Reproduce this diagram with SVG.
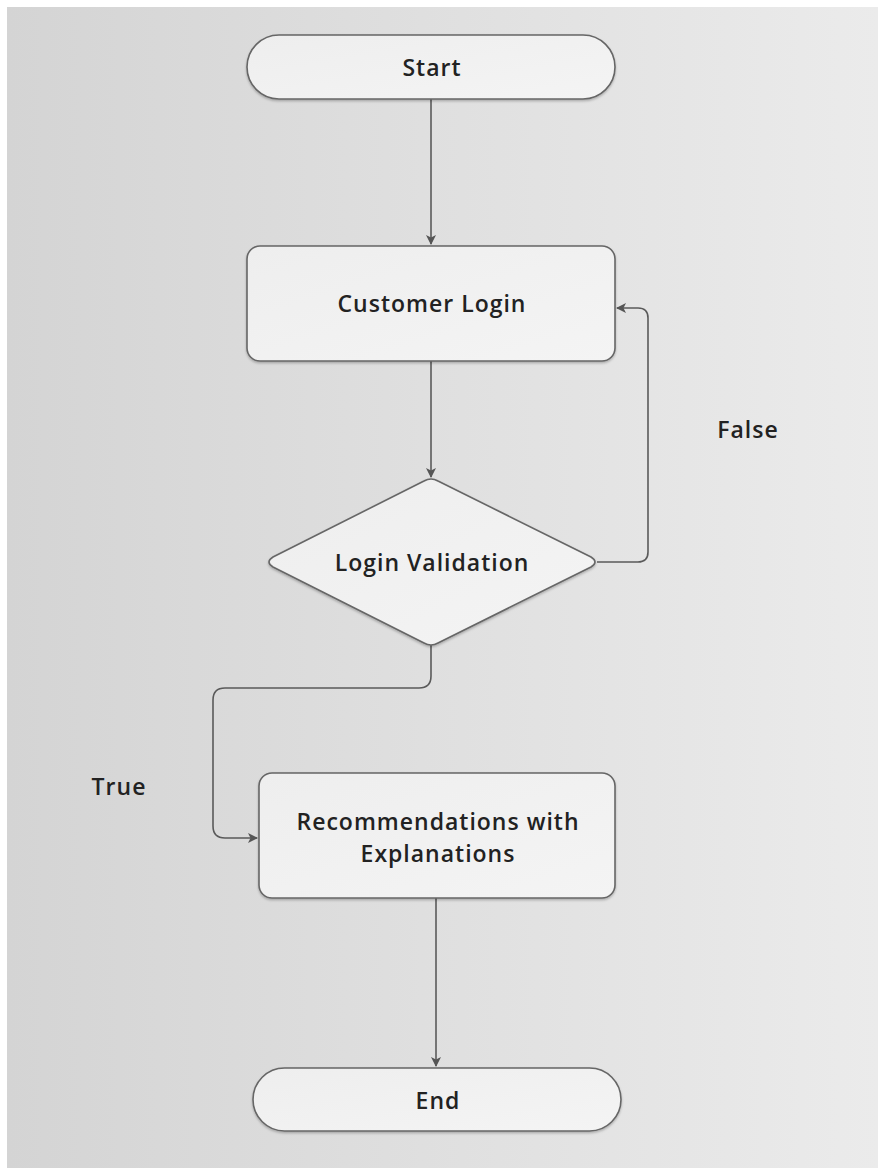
<svg xmlns="http://www.w3.org/2000/svg" width="878" height="1168" viewBox="0 0 878 1168">
  <defs>
    <linearGradient id="bg" x1="0" y1="0" x2="1" y2="0">
      <stop offset="0" stop-color="#d4d4d4"/>
      <stop offset="1" stop-color="#ebebeb"/>
    </linearGradient>
    <linearGradient id="shapeFill" x1="0" y1="0" x2="1" y2="1">
      <stop offset="0" stop-color="#eeeeee"/>
      <stop offset="1" stop-color="#f4f4f4"/>
    </linearGradient>
    <filter id="shadow" x="-10%" y="-10%" width="120%" height="130%">
      <feDropShadow dx="0" dy="1.5" stdDeviation="1.2" flood-color="#000" flood-opacity="0.25"/>
    </filter>
    <marker id="arrow" viewBox="0 0 10 10" refX="9" refY="5" markerWidth="10" markerHeight="10" markerUnits="userSpaceOnUse" orient="auto">
      <path d="M0,0 L10,5 L0,10 L2.5,5 Z" fill="#555"/>
    </marker>
    <style>
      .shape { fill: url(#shapeFill); stroke: #666; stroke-width: 1.6; filter: url(#shadow); }
      .label { font-family: "Open Sans", "Noto Sans", "Liberation Sans", sans-serif; font-weight: 600; font-size: 23px; letter-spacing: 1px; fill: #222; text-anchor: middle; dominant-baseline: central; }
      .edge { fill: none; stroke: #5a5a5a; stroke-width: 1.6; }
    </style>
  </defs>

  <rect x="0" y="0" width="878" height="1168" fill="#ffffff"/>
  <rect x="7" y="7" width="871" height="1161" fill="url(#bg)"/>

  <g id="connectors">
    <path class="edge" d="M431,99 L431,244" marker-end="url(#arrow)"/>
    <path class="edge" d="M431,361 L431,477" marker-end="url(#arrow)"/>
    <path class="edge" d="M597,562 L638,562 Q648,562 648,552 L648,318 Q648,308 638,308 L617,308" marker-end="url(#arrow)"/>
    <path class="edge" d="M431,645 L431,676 Q431,688 419,688 L225,688 Q213,688 213,700 L213,826 Q213,838 225,838 L257,838" marker-end="url(#arrow)"/>
    <path class="edge" d="M436,898 L436,1066" marker-end="url(#arrow)"/>
    <text class="label" x="748" y="429">False</text>
    <text class="label" x="119" y="786">True</text>
  </g>

  <g id="start">
    <rect class="shape" x="247" y="35" width="368" height="64" rx="32" ry="32"/>
    <text class="label" x="432" y="67">Start</text>
  </g>

  <g id="customer-login">
    <rect class="shape" x="247" y="246" width="368" height="115" rx="13" ry="13"/>
    <text class="label" x="432" y="303">Customer Login</text>
  </g>

  <g id="login-validation">
    <path class="shape" d="M424,481 Q431,477 438,481 L591,557 Q599,562 591,567 L438,643 Q431,647 424,643 L273,567 Q265,562 273,557 Z"/>
    <text class="label" x="432" y="562">Login Validation</text>
  </g>

  <g id="recommendations">
    <rect class="shape" x="259" y="773" width="356" height="125" rx="13" ry="13"/>
    <text class="label" x="438" y="821">Recommendations with</text>
    <text class="label" x="438" y="853">Explanations</text>
  </g>

  <g id="end">
    <rect class="shape" x="253" y="1068" width="368" height="63" rx="31.5" ry="31.5"/>
    <text class="label" x="438" y="1100">End</text>
  </g>
</svg>
